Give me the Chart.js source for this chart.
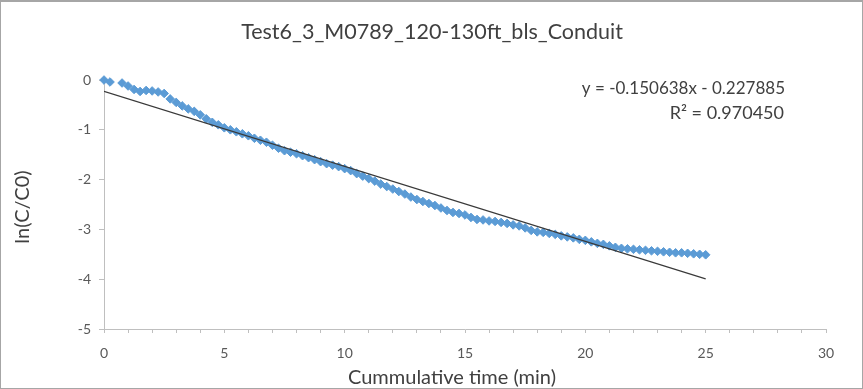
<!DOCTYPE html>
<html>
<head>
<meta charset="utf-8">
<script src="https://cdn.jsdelivr.net/npm/chart.js@4"></script>
<style>
  html, body { margin: 0; padding: 0; background: #fff; }
  #wrap { position: relative; width: 863px; height: 389px; box-sizing: border-box; border: 1px solid #a6a6a6; border-top: 2px solid #a6a6a6; }
  canvas { display: block; }
</style>
</head>
<body>
<div id="wrap"><canvas id="c" width="861" height="386"></canvas></div>
<script>
const chartTitle = "Test6_3_M0789_120-130ft_bls_Conduit";
const xAxisTitle = "Cummulative time (min)";
const yAxisTitle = "ln(C/C0)";

// cumulative time (min)
const times = [0, 0.25, 0.75, 1.0, 1.25, 1.5, 1.75, 2.0, 2.25, 2.5, 2.75, 3.0, 3.25, 3.5, 3.75, 4.0, 4.25, 4.5, 4.75,
  5.0, 5.25, 5.5, 5.75, 6.0, 6.25, 6.5, 6.75, 7.0, 7.25, 7.5, 7.75, 8.0, 8.25, 8.5, 8.75, 9.0, 9.25, 9.5, 9.75,
  10.0, 10.25, 10.5, 10.75, 11.0, 11.25, 11.5, 11.75, 12.0, 12.25, 12.5, 12.75, 13.0, 13.25, 13.5, 13.75, 14.0, 14.25, 14.5, 14.75,
  15.0, 15.25, 15.5, 15.75, 16.0, 16.25, 16.5, 16.75, 17.0, 17.25, 17.5, 17.75, 18.0, 18.25, 18.5, 18.75, 19.0, 19.25, 19.5, 19.75,
  20.0, 20.25, 20.5, 20.75, 21.0, 21.25, 21.5, 21.75, 22.0, 22.25, 22.5, 22.75, 23.0, 23.25, 23.5, 23.75, 24.0, 24.25, 24.5, 24.75, 25.0];
// ln(C/C0)
const lnValues = [0.00, -0.04, -0.06, -0.12, -0.19, -0.23, -0.21, -0.22, -0.24, -0.27, -0.38, -0.45, -0.52, -0.58, -0.63, -0.70, -0.78, -0.85, -0.90,
  -0.96, -1.00, -1.04, -1.08, -1.12, -1.17, -1.21, -1.25, -1.31, -1.37, -1.42, -1.45, -1.48, -1.52, -1.56, -1.60, -1.64, -1.68, -1.71, -1.74,
  -1.78, -1.82, -1.88, -1.93, -1.98, -2.03, -2.09, -2.14, -2.19, -2.24, -2.29, -2.35, -2.40, -2.44, -2.48, -2.52, -2.57, -2.62, -2.66, -2.68,
  -2.71, -2.76, -2.80, -2.81, -2.83, -2.84, -2.86, -2.88, -2.91, -2.93, -2.97, -3.02, -3.05, -3.06, -3.08, -3.10, -3.13, -3.15, -3.17, -3.20,
  -3.22, -3.25, -3.28, -3.30, -3.33, -3.36, -3.38, -3.39, -3.40, -3.41, -3.42, -3.43, -3.44, -3.45, -3.46, -3.47, -3.47, -3.48, -3.49, -3.50, -3.51];

// linear trendline as reported on the chart
const trendSlope = -0.150638;
const trendIntercept = -0.227885;
const trendRange = [0, 25];
const equationLines = ["y = -0.150638x - 0.227885", "R\u00B2 = 0.970450"];

const xTicks = [0, 5, 10, 15, 20, 25, 30];
const yTicks = [0, -1, -2, -3, -4, -5];

const FONT = "Lato, 'Open Sans', sans-serif";

const points = times.map((t, i) => ({ x: t, y: lnValues[i] }));
const trendPoints = trendRange.map(t => ({ x: t, y: trendSlope * t + trendIntercept }));

const textPlugin = {
  id: 'texts',
  afterDraw(chart) {
    const ctx = chart.ctx;
    ctx.save();
    ctx.fillStyle = '#404040';
    ctx.textBaseline = 'middle';
    ctx.font = "21.5px " + FONT;
    ctx.textAlign = 'center';
    ctx.fillText(chartTitle, 431, 30);
    ctx.font = "17px " + FONT;
    ctx.textAlign = 'right';
    ctx.fillText(equationLines[0], 784, 87);
    ctx.font = "18px " + FONT;
    ctx.fillText(equationLines[1], 783, 111);
    // axis titles
    ctx.font = "20px " + FONT;
    ctx.textAlign = 'center';
    ctx.fillText(xAxisTitle, 451, 376);
    ctx.translate(22, 205);
    ctx.rotate(-Math.PI / 2);
    ctx.fillText(yAxisTitle, 0, 0);
    ctx.restore();
  }
};

new Chart(document.getElementById('c'), {
  type: 'scatter',
  data: {
    datasets: [
      {
        label: 'ln(C/C0)',
        data: points,
        pointStyle: 'rectRot',
        pointRadius: 4.3,
        pointBackgroundColor: '#5B9BD5',
        pointBorderColor: '#5B9BD5',
        pointBorderWidth: 1,
        showLine: false,
        clip: false,
        order: 2
      },
      {
        label: 'Linear trend',
        data: trendPoints,
        showLine: true,
        borderColor: '#3a3a3a',
        borderWidth: 1.2,
        pointRadius: 0,
        fill: false,
        order: 1
      }
    ]
  },
  options: {
    responsive: false,
    animation: false,
    layout: { padding: { top: 78, right: 36, left: 0, bottom: 0 } },
    plugins: {
      legend: { display: false },
      title: { display: false },
      tooltip: { enabled: false }
    },
    scales: {
      x: {
        type: 'linear',
        min: 0, max: 30,
        afterBuildTicks: s => { const t = []; for (let v = 0; v <= 30; v++) t.push({ value: v }); s.ticks = t; },
        ticks: {
          autoSkip: false,
          maxRotation: 0,
          padding: 12,
          color: '#595959',
          font: { family: FONT, size: 14 },
          callback: v => xTicks.includes(v) ? String(v) : ''
        },
        grid: { drawOnChartArea: false, color: '#bfbfbf', tickLength: 4, tickColor: '#bfbfbf' },
        border: { color: '#bfbfbf', width: 1 },
        title: { display: false },
        afterFit: s => { s.height = 59; }
      },
      y: {
        type: 'linear',
        min: -5, max: 0,
        afterBuildTicks: s => { s.ticks = yTicks.map(v => ({ value: v })); },
        ticks: {
          padding: 8,
          color: '#595959',
          font: { family: FONT, size: 14 },
          callback: v => String(v)
        },
        grid: { drawOnChartArea: false, color: '#bfbfbf', tickLength: 5, tickColor: '#bfbfbf' },
        border: { color: '#bfbfbf', width: 1 },
        title: { display: false },
        afterFit: s => { s.width = 103; }
      }
    }
  },
  plugins: [textPlugin]
});
</script>
</body>
</html>
